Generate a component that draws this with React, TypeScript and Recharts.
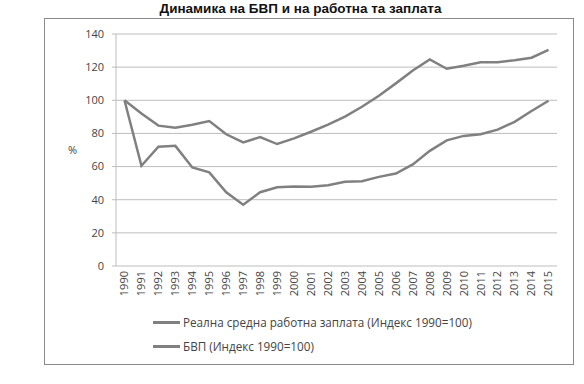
import React from "react";
import { CartesianGrid, Legend, Line, LineChart, XAxis, YAxis } from "recharts";

// ─── Data (index 1990 = 100) ────────────────────────────────────────────────
const years = [
  1990, 1991, 1992, 1993, 1994, 1995, 1996, 1997, 1998, 1999, 2000, 2001, 2002,
  2003, 2004, 2005, 2006, 2007, 2008, 2009, 2010, 2011, 2012, 2013, 2014, 2015,
];
const wage = [
  100, 60.5, 72, 72.5, 59.5, 56.5, 44.5, 37, 44.5, 47.5, 48, 47.8, 48.7,
  50.8, 51.2, 53.8, 55.8, 61.3, 69.5, 75.8, 78.5, 79.5, 82.3, 87, 93.5, 99.7,
];
const gdp = [
  100, 92, 84.7, 83.5, 85.2, 87.5, 79.5, 74.6, 77.8, 73.6, 77, 81, 85.3,
  90.1, 96.1, 102.7, 110.2, 118, 124.7, 119, 120.8, 123, 123, 124.1, 125.7, 130.4,
];
const yTicks = [0, 20, 40, 60, 80, 100, 120, 140];

const wageName = "Реална средна работна заплата (Индекс 1990=100)";
const gdpName = "БВП (Индекс 1990=100)";
const title = "Динамика на БВП и на работна та заплата";

const data = years.map((year, i) => ({ year, wage: wage[i], gdp: gdp[i] }));
const bandEdges = [...years.map((y) => y - 0.5), years[years.length - 1] + 0.5];

const LINE = "#808080";
const GRID = "#bdbdbd";
const TEXT = "#444444";
const FONT = "'Open Sans', sans-serif";

const YearTick = ({ x, y, payload }: any) => (
  <text
    x={x}
    y={y}
    transform={`rotate(-90 ${x} ${y})`}
    textAnchor="end"
    dy="0.35em"
    fontSize={11}
    fontFamily={FONT}
    fill={TEXT}
  >
    {payload.value}
  </text>
);

const LegendRows = () => (
  <div style={{ fontFamily: FONT, fontSize: 11.7, color: TEXT }}>
    {[wageName, gdpName].map((name) => (
      <div key={name} style={{ display: "flex", alignItems: "center", height: 24 }}>
        <span style={{ display: "inline-block", width: 27, height: 3, background: LINE, marginRight: 3 }} />
        {name}
      </div>
    ))}
  </div>
);

export default function App() {
  return (
    <div style={{ position: "absolute", left: 0, top: 0, width: 584, height: 384, background: "#fff" }}>
      <div
        style={{
          position: "absolute", left: 44, top: 18, width: 528, height: 345,
          border: "1px solid #8a8a8a",
        }}
      />
      <div
        style={{
          position: "absolute", left: 0, top: 1, width: 601, textAlign: "center",
          fontFamily: "'Liberation Sans', Arial, sans-serif", fontWeight: "bold",
          fontSize: 13.5, color: "#111",
        }}
      >
        {title}
      </div>
      <LineChart
        width={584}
        height={384}
        data={data}
        margin={{ top: 34, right: 27, left: 60, bottom: 78 }}
        style={{ position: "absolute", left: 0, top: 0 }}
      >
        <CartesianGrid vertical={false} stroke={GRID} />
        <XAxis
          xAxisId="marks"
          type="number"
          domain={[bandEdges[0], bandEdges[bandEdges.length - 1]]}
          ticks={bandEdges}
          tick={false}
          tickSize={4}
          height={0}
          stroke={GRID}
        />
        <XAxis
          dataKey="year"
          type="number"
          domain={[bandEdges[0], bandEdges[bandEdges.length - 1]]}
          ticks={years}
          interval={0}
          axisLine={false}
          tickLine={false}
          tickSize={0}
          tickMargin={5}
          height={40}
          tick={<YearTick />}
        />
        <YAxis
          domain={[0, 140]}
          ticks={yTicks}
          width={56}
          stroke={GRID}
          tickSize={4}
          tickMargin={8}
          tick={{ fontSize: 11, fontFamily: FONT, fill: TEXT }}
          label={{ value: "%", position: "insideLeft", offset: 8, fontSize: 11, fontFamily: FONT, fill: TEXT }}
        />
        <Legend
          layout="vertical"
          verticalAlign="middle"
          align="center"
          wrapperStyle={{ left: 153, top: 310 }}
          content={() => <LegendRows />}
        />
        <Line dataKey="wage" name={wageName} stroke={LINE} strokeWidth={2.5} dot={false} isAnimationActive={false} />
        <Line dataKey="gdp" name={gdpName} stroke={LINE} strokeWidth={2.5} dot={false} isAnimationActive={false} />
      </LineChart>
    </div>
  );
}
